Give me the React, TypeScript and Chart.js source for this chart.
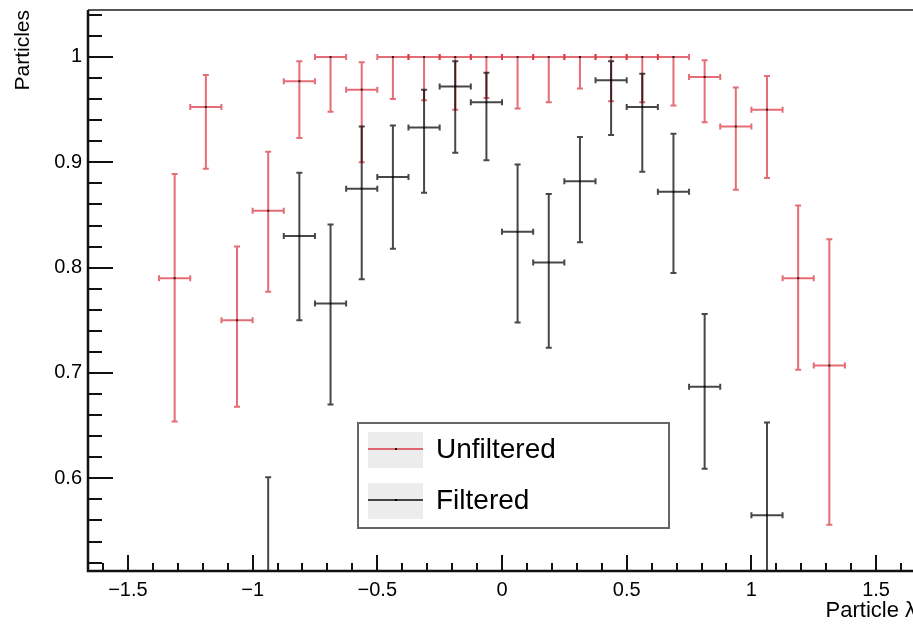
import { useEffect, useRef } from "react";
import { Chart, registerables } from "chart.js";

Chart.register(...registerables);

// ---- Data (bin centres in "Particle λ", efficiencies and asymmetric error bounds) ----
const binCenters = [
  -1.3125, -1.1875, -1.0625, -0.9375, -0.8125, -0.6875, -0.5625, -0.4375, -0.3125, -0.1875, -0.0625,
  0.0625, 0.1875, 0.3125, 0.4375, 0.5625, 0.6875, 0.8125, 0.9375, 1.0625, 1.1875, 1.3125,
];
const binHalfWidth = 0.0625;

const unfilteredValues = [
  0.79, 0.9525, 0.75, 0.854, 0.977, 1.0, 0.969, 1.0, 1.0, 1.0, 1.0,
  1.0, 1.0, 1.0, 1.0, 1.0, 1.0, 0.981, 0.934, 0.95, 0.79, 0.707,
];
const unfilteredLow = [
  0.654, 0.894, 0.668, 0.777, 0.923, 0.948, 0.9, 0.96, 0.959, 0.95, 0.961,
  0.951, 0.957, 0.97, 0.958, 0.957, 0.954, 0.938, 0.874, 0.885, 0.703, 0.556,
];
const unfilteredHigh = [
  0.889, 0.983, 0.82, 0.91, 0.996, 1.0, 0.995, 1.0, 1.0, 1.0, 1.0,
  1.0, 1.0, 1.0, 1.0, 1.0, 1.0, 0.997, 0.971, 0.982, 0.859, 0.827,
];

const filteredValues = [
  null, null, null, 0.5, 0.83, 0.766, 0.875, 0.886, 0.933, 0.972, 0.957,
  0.834, 0.805, 0.882, 0.978, 0.9525, 0.872, 0.687, null, 0.565, null, null,
];
const filteredLow = [
  null, null, null, 0.4, 0.75, 0.67, 0.789, 0.818, 0.871, 0.909, 0.902,
  0.748, 0.724, 0.824, 0.926, 0.891, 0.795, 0.609, null, 0.46, null, null,
];
const filteredHigh = [
  null, null, null, 0.601, 0.89, 0.841, 0.934, 0.935, 0.969, 0.996, 0.985,
  0.898, 0.87, 0.924, 0.996, 0.984, 0.927, 0.756, null, 0.653, null, null,
];

const seriesLabels = ["Unfiltered", "Filtered"];

const xMin = -1.66;
const xMax = 1.66;
const xMajorStep = 0.5;
const xMinorStep = 0.1;
const yMin = 0.512;
const yMax = 1.0446;
const yMajorStep = 0.1;
const yMinorStep = 0.02;

// ---- Styles ----
const FONT = "'Liberation Sans', Arial, Helvetica, sans-serif";
const RED = "rgba(215,30,45,0.65)";
const BLACK = "rgba(0,0,0,0.72)";

function buildPoints(vals: (number | null)[], lo: (number | null)[], hi: (number | null)[]) {
  const pts: any[] = [];
  binCenters.forEach((c, i) => {
    const v = vals[i];
    if (v === null || v === undefined) return;
    pts.push({ x: c, y: v, yMin: lo[i], yMax: hi[i] });
  });
  return pts;
}

function fmtTick(v: number | string) {
  const n = Math.round(Number(v) * 10) / 10;
  return String(n).replace("-", "\u2212");
}

const rootStylePlugin = {
  id: "rootStyle",
  afterDatasetsDraw(chart: any) {
    const { ctx, chartArea: ca } = chart;
    const xs = chart.scales.x;
    const ys = chart.scales.y;
    ctx.save();
    ctx.beginPath();
    ctx.rect(ca.left, ca.top, ca.right - ca.left, ca.bottom - ca.top);
    ctx.clip();
    chart.data.datasets.forEach((ds: any, di: number) => {
      const meta = chart.getDatasetMeta(di);
      ctx.strokeStyle = ds.borderColor;
      ctx.lineWidth = 2;
      ctx.lineCap = "butt";
      ds.data.forEach((p: any, i: number) => {
        const el = meta.data[i];
        const px = el ? el.x : xs.getPixelForValue(p.x);
        const py = el ? el.y : ys.getPixelForValue(p.y);
        const xl = xs.getPixelForValue(p.x - binHalfWidth);
        const xr = xs.getPixelForValue(p.x + binHalfWidth);
        const yl = ys.getPixelForValue(p.yMin);
        const yh = ys.getPixelForValue(p.yMax);
        const cap = 3;
        ctx.beginPath();
        ctx.moveTo(xl, py);
        ctx.lineTo(xr, py);
        ctx.moveTo(px, yl);
        ctx.lineTo(px, yh);
        ctx.moveTo(xl, py - cap);
        ctx.lineTo(xl, py + cap);
        ctx.moveTo(xr, py - cap);
        ctx.lineTo(xr, py + cap);
        if (yh < py - 1) {
          ctx.moveTo(px - cap, yh);
          ctx.lineTo(px + cap, yh);
        }
        if (yl > py + 1) {
          ctx.moveTo(px - cap, yl);
          ctx.lineTo(px + cap, yl);
        }
        ctx.stroke();
        ctx.fillStyle = "rgba(0,0,0,0.8)";
        ctx.fillRect(px - 1, py - 1, 2, 2);
      });
    });
    ctx.restore();
  },
  afterDraw(chart: any) {
    const { ctx, chartArea: ca } = chart;
    const xs = chart.scales.x;
    const ys = chart.scales.y;
    ctx.save();
    // frame
    ctx.strokeStyle = "#555";
    ctx.lineWidth = 2;
    ctx.beginPath();
    ctx.moveTo(ca.left, ca.top);
    ctx.lineTo(ca.right, ca.top);
    ctx.lineTo(ca.right, ca.bottom);
    ctx.stroke();
    ctx.strokeStyle = "#111";
    ctx.lineWidth = 2.5;
    ctx.beginPath();
    ctx.moveTo(ca.left, ca.top);
    ctx.lineTo(ca.left, ca.bottom);
    ctx.lineTo(ca.right, ca.bottom);
    ctx.stroke();

    // ticks
    ctx.lineWidth = 2;
    ctx.strokeStyle = "#111";
    ctx.beginPath();
    for (let k = Math.ceil(yMin / yMinorStep); k * yMinorStep <= yMax; k++) {
      const major = k % Math.round(yMajorStep / yMinorStep) === 0;
      const py = Math.round(ys.getPixelForValue(k * yMinorStep));
      ctx.moveTo(ca.left, py);
      ctx.lineTo(ca.left + (major ? 25 : 14), py);
    }
    for (let k = Math.ceil(xMin / xMinorStep); k * xMinorStep <= xMax; k++) {
      const major = k % Math.round(xMajorStep / xMinorStep) === 0;
      const px = Math.round(xs.getPixelForValue(k * xMinorStep));
      ctx.moveTo(px, ca.bottom);
      ctx.lineTo(px, ca.bottom - (major ? 16 : 8));
    }
    ctx.stroke();

    // legend (ROOT TLegend style)
    const lx = 358, ly = 423, lw = 311, lh = 105;
    ctx.fillStyle = "#fff";
    ctx.fillRect(lx, ly, lw, lh);
    ctx.strokeStyle = "#666";
    ctx.lineWidth = 2;
    ctx.strokeRect(lx, ly, lw, lh);
    chart.data.datasets.forEach((ds: any, i: number) => {
      const sy = ly + 9 + i * 51;
      ctx.fillStyle = "#ececec";
      ctx.fillRect(lx + 10, sy, 55, 36);
      const cy = sy + 17;
      ctx.strokeStyle = ds.borderColor;
      ctx.lineWidth = 2;
      ctx.beginPath();
      ctx.moveTo(lx + 10, cy);
      ctx.lineTo(lx + 65, cy);
      ctx.stroke();
      ctx.fillStyle = "#000";
      ctx.fillRect(lx + 37, cy - 1, 2, 2);
      ctx.fillStyle = "#000";
      ctx.font = `28px ${FONT}`;
      ctx.textBaseline = "middle";
      ctx.textAlign = "left";
      ctx.fillText(ds.label, lx + 78, cy + 1);
    });
    ctx.restore();
  },
};

export default function App() {
  const canvasRef = useRef<HTMLCanvasElement | null>(null);

  useEffect(() => {
    document.body.style.margin = "0";
    const canvas = canvasRef.current;
    if (!canvas) return;
    const chart = new Chart(canvas, {
      type: "scatter",
      data: {
        datasets: [
          {
            label: seriesLabels[0],
            data: buildPoints(unfilteredValues, unfilteredLow, unfilteredHigh),
            borderColor: RED,
            backgroundColor: RED,
            pointRadius: 0,
            pointHoverRadius: 0,
            showLine: false,
          },
          {
            label: seriesLabels[1],
            data: buildPoints(filteredValues, filteredLow, filteredHigh),
            borderColor: BLACK,
            backgroundColor: BLACK,
            pointRadius: 0,
            pointHoverRadius: 0,
            showLine: false,
          },
        ],
      },
      options: {
        animation: false,
        responsive: false,
        devicePixelRatio: 1,
        events: [],
        layout: { autoPadding: false, padding: { left: 0, top: 10, right: 24, bottom: 0 } },
        plugins: {
          legend: { display: false },
          tooltip: { enabled: false },
        },
        scales: {
          x: {
            type: "linear",
            min: xMin,
            max: xMax,
            grid: { display: false, drawTicks: false },
            border: { display: false },
            ticks: {
              stepSize: xMajorStep,
              includeBounds: false,
              padding: 7,
              color: "#000",
              font: { family: FONT, size: 20 },
              callback: (v: any) => fmtTick(v),
              maxRotation: 0,
              autoSkip: false,
            },
            title: {
              display: true,
              text: "Particle λ",
              align: "end",
              color: "#000",
              font: { family: FONT, size: 22 },
              padding: { top: 0, bottom: 1 },
            },
            afterFit: (scale: any) => {
              scale.height = 54;
              scale.paddingLeft = 0;
              scale.paddingRight = 0;
              scale.paddingTop = 0;
              scale.paddingBottom = 0;
            },
          },
          y: {
            type: "linear",
            min: yMin,
            max: yMax,
            grid: { display: false, drawTicks: false },
            border: { display: false },
            ticks: {
              stepSize: yMajorStep,
              includeBounds: false,
              padding: 6,
              color: "#000",
              font: { family: FONT, size: 20 },
              callback: (v: any) => fmtTick(v),
              autoSkip: false,
            },
            title: {
              display: true,
              text: "Particles",
              align: "end",
              color: "#000",
              font: { family: FONT, size: 21 },
              padding: { top: 11, bottom: 0 },
            },
            afterFit: (scale: any) => {
              scale.width = 88;
              scale.paddingLeft = 0;
              scale.paddingRight = 0;
              scale.paddingTop = 0;
              scale.paddingBottom = 0;
            },
          },
        },
      } as any,
      plugins: [rootStylePlugin],
    });
    return () => chart.destroy();
  }, []);

  return (
    <div
      style={{
        position: "fixed",
        left: 0,
        top: 0,
        width: 913,
        height: 625,
        overflow: "hidden",
        background: "#fff",
      }}
    >
      <canvas ref={canvasRef} width={940} height={625} style={{ display: "block" }} />
    </div>
  );
}
